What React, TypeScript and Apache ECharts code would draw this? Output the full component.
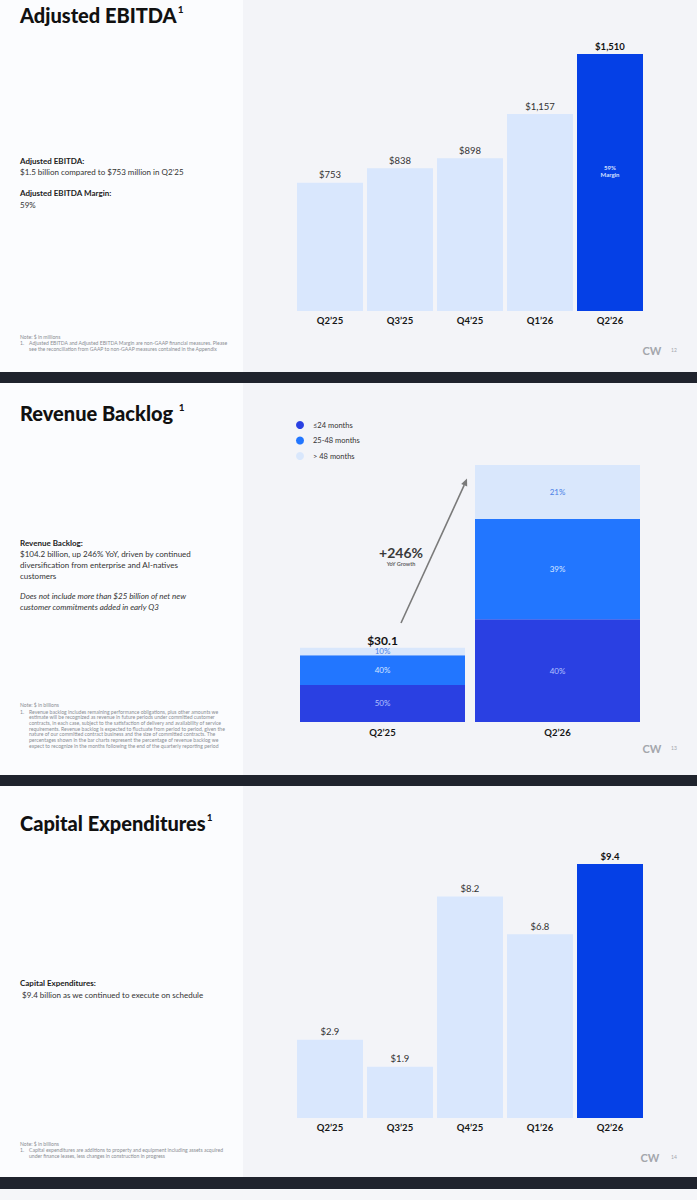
import React, { useEffect, useRef } from "react";
import * as echarts from "echarts";

// ---------- data ----------
const quarters = ["Q2’25", "Q3’25", "Q4’25", "Q1’26", "Q2’26"];
const ebitda = [753, 838, 898, 1157, 1510];
const ebitdaMargin = "59%";

const backlogPeriods = ["Q2’25", "Q2’26"];
const backlogTotal = [30.1, 104.2];
const backlogNearPct = [50, 40]; // ≤24 months
const backlogMidPct = [40, 39]; // 25-48 months
const backlogFarPct = [10, 21]; // > 48 months
const backlogNames = ["≤24 months", "25-48 months", "> 48 months"];
const backlogGrowth = "+246%";

const capex = [2.9, 1.9, 8.2, 6.8, 9.4];

// ---------- style ----------
const FONT = "Lato";
const LIGHT_BAR = "#d9e7fd";
const DARK_BAR = "#0540e6";
const STACK_COLORS = ["#2a40e2", "#2276ff", "#d9e7fc"];
const STACK_LABEL = ["#b3c3ff", "#d6e5ff", "#4a7fe6"];
const LEFT_BG = "#fbfcfe";
const RIGHT_BG = "#f3f4f8";
const SEP = "#1f232d";

const W = 697;
const H = 1200;

function txt(x: number, y: number, text: string, o: any = {}) {
  return {
    type: "text",
    x,
    y,
    z: 20,
    silent: true,
    style: {
      text,
      fill: o.fill || "#222",
      font: `${o.italic ? "italic " : ""}${o.bold ? "bold " : ""}${o.size || 8}px ${FONT}`,
      textAlign: o.align || "left",
      textVerticalAlign: "middle",
    },
  };
}

function title(x: number, y: number, main: string, sup: string) {
  return {
    type: "text",
    x,
    y,
    z: 20,
    silent: true,
    style: {
      text: `{t|${main}}{s|${sup}}`,
      textVerticalAlign: "middle",
      fill: "#111",
      rich: {
        t: { fontFamily: FONT, fontWeight: 900, fontSize: 20, fill: "#111", lineHeight: 22 },
        s: { fontFamily: FONT, fontWeight: "bold", fontSize: 10, fill: "#111", verticalAlign: "top", lineHeight: 12, padding: [0, 0, 0, 1] },
      },
    },
  };
}

export default function App() {
  const ref = useRef<HTMLDivElement>(null);

  useEffect(() => {
    if (!ref.current) return;
    const chart = echarts.init(ref.current, undefined, { renderer: "svg" });

    const slides = [
      [0, 372],
      [383, 775],
      [786, 1177],
    ];
    const seps = [
      [372, 383],
      [775, 786],
      [1177, 1189],
    ];

    const bg: any[] = [];
    slides.forEach(([a, b]) => {
      bg.push({ type: "rect", z: -10, silent: true, shape: { x: 0, y: a, width: 243, height: b - a }, style: { fill: LEFT_BG } });
      bg.push({ type: "rect", z: -10, silent: true, shape: { x: 243, y: a, width: W - 243, height: b - a }, style: { fill: RIGHT_BG } });
    });
    seps.forEach(([a, b]) => {
      bg.push({ type: "rect", z: -10, silent: true, shape: { x: 0, y: a, width: W, height: b - a }, style: { fill: SEP } });
    });
    bg.push({ type: "rect", z: -10, silent: true, shape: { x: 0, y: 1189, width: W, height: H - 1189 }, style: { fill: "#f5f6f9" } });

    const FN = "#8a8d93";
    const FS = 5.1;
    const texts: any[] = [
      // slide 1
      title(20, 15, "Adjusted EBITDA", "1"),
      txt(20, 161, "Adjusted EBITDA:", { bold: true, size: 8 }),
      txt(20, 172, "$1.5 billion compared to $753 million in Q2’25", { size: 8, fill: "#333" }),
      txt(20, 193, "Adjusted EBITDA Margin:", { bold: true, size: 8 }),
      txt(20, 205, ebitdaMargin, { size: 8, fill: "#333" }),
      txt(20, 337, "Note: $ in millions", { size: FS, fill: FN }),
      txt(20, 343, "1.", { size: FS, fill: FN }),
      txt(29, 343, "Adjusted EBITDA and Adjusted EBITDA Margin are non-GAAP financial measures. Please", { size: FS, fill: FN }),
      txt(29, 349, "see the reconciliation from GAAP to non-GAAP measures contained in the Appendix", { size: FS, fill: FN }),
      txt(610, 167, ebitdaMargin, { bold: true, size: 6, fill: "#d5e0ff", align: "center" }),
      txt(610, 174, "Margin", { bold: true, size: 6, fill: "#d5e0ff", align: "center" }),
      txt(652, 350, "CW", { bold: true, size: 11, fill: "#a3a6ac", align: "center" }),
      txt(674, 350, "12", { size: 5, fill: "#a3a6ac", align: "center" }),

      // slide 2
      title(20, 413, "Revenue Backlog ", "1"),
      txt(20, 543, "Revenue Backlog:", { bold: true, size: 8 }),
      txt(20, 554, "$104.2 billion, up 246% YoY, driven by continued", { size: 8, fill: "#333" }),
      txt(20, 565, "diversification from enterprise and AI-natives", { size: 8, fill: "#333" }),
      txt(20, 575.5, "customers", { size: 8, fill: "#333" }),
      txt(20, 596, "Does not include more than $25 billion of net new", { size: 8, fill: "#333", italic: true }),
      txt(20, 607, "customer commitments added in early Q3", { size: 8, fill: "#333", italic: true }),
      txt(20, 705, "Note: $ in billions", { size: FS, fill: FN }),
      txt(20, 711.5, "1.", { size: FS, fill: FN }),
      txt(29, 711.5, "Revenue backlog includes remaining performance obligations, plus other amounts we", { size: FS, fill: FN }),
      txt(29, 717.2, "estimate will be recognized as revenue in future periods under committed customer", { size: FS, fill: FN }),
      txt(29, 722.9, "contracts, in each case, subject to the satisfaction of delivery and availability of service", { size: FS, fill: FN }),
      txt(29, 728.6, "requirements. Revenue backlog is expected to fluctuate from period to period, given the", { size: FS, fill: FN }),
      txt(29, 734.3, "nature of our committed contract business and the size of committed contracts. The", { size: FS, fill: FN }),
      txt(29, 740, "percentages shown in the bar charts represent the percentage of revenue backlog we", { size: FS, fill: FN }),
      txt(29, 745.7, "expect to recognize in the months following the end of the quarterly reporting period", { size: FS, fill: FN }),
      txt(401, 552, backlogGrowth, { bold: true, size: 14, fill: "#3a3a3a", align: "center" }),
      txt(401, 564, "YoY Growth", { bold: true, size: 5.5, fill: "#666", align: "center" }),
      txt(652, 748, "CW", { bold: true, size: 11, fill: "#a3a6ac", align: "center" }),
      txt(674, 748, "13", { size: 5, fill: "#a3a6ac", align: "center" }),
      {
        type: "line",
        z: 15,
        silent: true,
        shape: { x1: 401, y1: 623, x2: 464.2, y2: 485.2 },
        style: { stroke: "#7a7a7a", lineWidth: 1.6 },
      },
      {
        type: "polygon",
        z: 15,
        silent: true,
        shape: { points: [[467, 478.5], [467.2, 486.6], [461.2, 483.9]] },
        style: { fill: "#7a7a7a" },
      },

      // slide 3
      title(20, 823, "Capital Expenditures", "1"),
      txt(20, 983, "Capital Expenditures:", { bold: true, size: 8 }),
      txt(22, 995, "$9.4 billion as we continued to execute on schedule", { size: 8, fill: "#333" }),
      txt(20, 1144, "Note: $ in billions", { size: FS, fill: FN }),
      txt(20, 1150, "1.", { size: FS, fill: FN }),
      txt(29, 1150, "Capital expenditures are additions to property and equipment including assets acquired", { size: FS, fill: FN }),
      txt(29, 1156, "under finance leases, less changes in construction in progress", { size: FS, fill: FN }),
      txt(650, 1157, "CW", { bold: true, size: 11, fill: "#a3a6ac", align: "center" }),
      txt(674, 1157, "14", { size: 5, fill: "#a3a6ac", align: "center" }),
    ];

    const catAxis = (gridIndex: number, data: string[], margin: number) => ({
      type: "category",
      gridIndex,
      data,
      axisLine: { show: false },
      axisTick: { show: false },
      axisLabel: { margin, color: "#161616", fontFamily: FONT, fontWeight: "bold", fontSize: 9.5 },
    });
    const valAxis = (gridIndex: number, max: number) => ({
      type: "value",
      gridIndex,
      min: 0,
      max,
      show: false,
      splitLine: { show: false },
    });

    const lastIdx = quarters.length - 1;
    const singleBars = (vals: number[], fmt: (v: number) => string, axis: number) => ({
      type: "bar",
      xAxisIndex: axis,
      yAxisIndex: axis,
      barWidth: 66,
      data: vals.map((v, i) => ({
        value: v,
        itemStyle: { color: i === lastIdx ? DARK_BAR : LIGHT_BAR },
        label: i === lastIdx ? { fontWeight: "bold", color: "#111" } : {},
      })),
      label: {
        show: true,
        position: "top",
        distance: 3,
        fontFamily: FONT,
        fontSize: 9.5,
        color: "#333",
        formatter: (p: any) => fmt(p.value),
      },
    });

    const pctSets = [backlogNearPct, backlogMidPct, backlogFarPct];
    const stackSeries = pctSets.map((pcts, s) => ({
      type: "bar",
      name: backlogNames[s],
      stack: "backlog",
      xAxisIndex: 1,
      yAxisIndex: 1,
      barWidth: 165,
      itemStyle: { color: STACK_COLORS[s] },
      data: backlogTotal.map((t, i) => (t * pcts[i]) / 100),
      label: {
        show: true,
        position: "inside",
        fontFamily: FONT,
        fontSize: 8,
        color: STACK_LABEL[s],
        formatter: (p: any) => `${pcts[p.dataIndex]}%`,
      },
    }));
    const totalSeries = {
      type: "bar",
      name: "total",
      stack: "backlog",
      xAxisIndex: 1,
      yAxisIndex: 1,
      barWidth: 165,
      itemStyle: { color: "transparent" },
      data: backlogTotal.map(() => 0),
      label: {
        show: true,
        position: "top",
        distance: 1,
        fontFamily: FONT,
        fontWeight: "bold",
        fontSize: 12,
        color: "#111",
        formatter: (p: any) => `$${backlogTotal[p.dataIndex].toFixed(1)}`,
      },
    };

    chart.setOption({
      animation: false,
      textStyle: { fontFamily: FONT },
      graphic: { elements: [...bg, ...texts] },
      legend: {
        data: backlogNames.map((n, s) => ({ name: n, itemStyle: { color: STACK_COLORS[s] } })),
        orient: "vertical",
        left: 291,
        top: 416,
        icon: "circle",
        itemWidth: 16,
        itemHeight: 8,
        itemGap: 7.5,
        selectedMode: false,
        textStyle: { fontFamily: FONT, fontSize: 7.5, color: "#333", lineHeight: 8 },
      },
      grid: [
        { left: 295, width: 350, top: 54, height: 257, containLabel: false, outerBoundsMode: "none" },
        { left: 295, width: 350, top: 465, height: 257, containLabel: false, outerBoundsMode: "none" },
        { left: 295, width: 350, top: 864, height: 254, containLabel: false, outerBoundsMode: "none" },
      ],
      xAxis: [catAxis(0, quarters, 4), catAxis(1, backlogPeriods, 5), catAxis(2, quarters, 4)],
      yAxis: [valAxis(0, Math.max(...ebitda)), valAxis(1, Math.max(...backlogTotal)), valAxis(2, Math.max(...capex))],
      series: [
        singleBars(ebitda, (v) => `$${v.toLocaleString("en-US")}`, 0),
        ...stackSeries,
        totalSeries,
        singleBars(capex, (v) => `$${v.toFixed(1)}`, 2),
      ],
    });

    return () => chart.dispose();
  }, []);

  return (
    <div
      ref={ref}
      style={{ position: "absolute", left: 0, top: 0, width: W, height: H }}
    />
  );
}
